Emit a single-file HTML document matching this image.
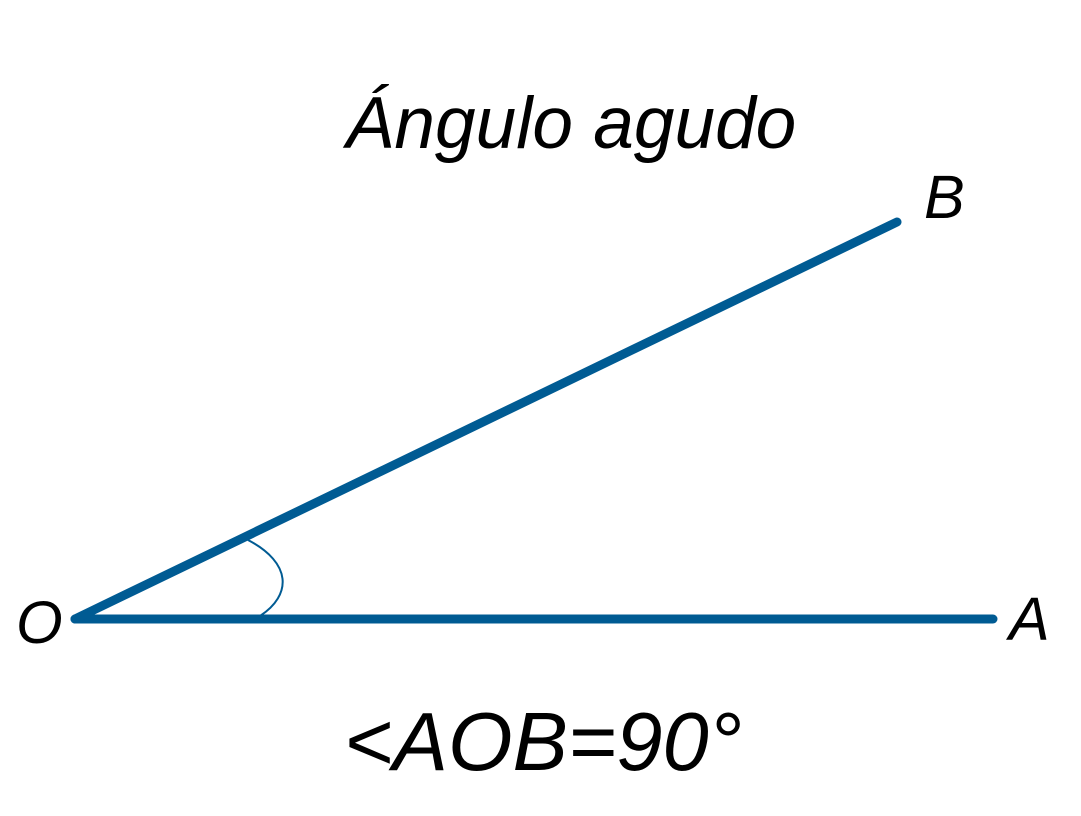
<!DOCTYPE html>
<html><head><meta charset="utf-8"><style>
html,body{margin:0;padding:0;background:#fff;}
svg{display:block;}
text{font-family:"Liberation Sans",sans-serif;font-style:italic;fill:#000;}
</style></head><body>
<svg width="1081" height="816" viewBox="0 0 1081 816">
<text x="571" y="148" font-size="73" text-anchor="middle">Ángulo agudo</text>
<line x1="75" y1="619" x2="993" y2="619" stroke="#005b93" stroke-width="9" stroke-linecap="round"/>
<line x1="75" y1="619" x2="897" y2="222" stroke="#005b93" stroke-width="9" stroke-linecap="round"/>
<path d="M248,540 C292,563 292,595 260,616" fill="none" stroke="#005b93" stroke-width="2"/>
<text x="924" y="218" font-size="61">B</text>
<text x="16" y="643" font-size="60">O</text>
<text x="1009" y="640" font-size="61">A</text>
<text x="543" y="770" font-size="83" text-anchor="middle">&lt;AOB=90°</text>
</svg>
</body></html>
